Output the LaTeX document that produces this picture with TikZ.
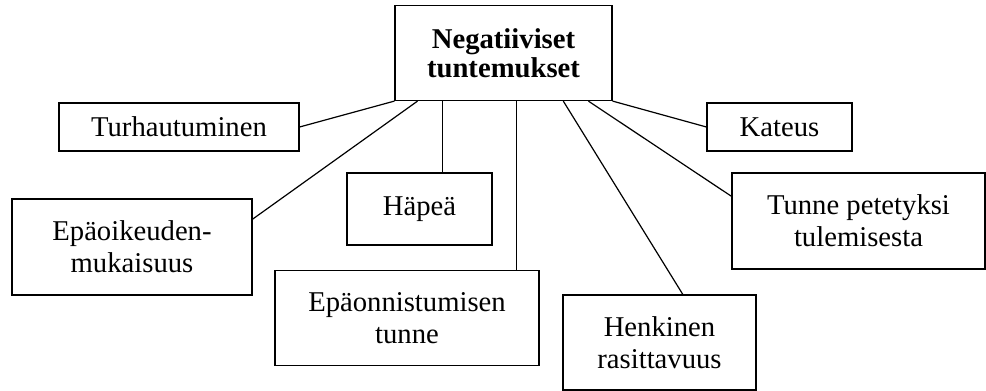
\documentclass[tikz,border=0pt]{standalone}
\usepackage{fontspec}
\setmainfont{Liberation Serif}
\usepackage{tikz}
\usetikzlibrary{calc}

\tikzset{
  feeling/.style={draw, line width=0.9pt, inner sep=0pt, align=center, font=\fontsize{21.5}{24}\selectfont},
  link/.style={line width=0.9pt}
}

\begin{document}
\begin{tikzpicture}[x=0.75pt,y=0.75pt,yscale=-1,xscale=1]

\useasboundingbox (0,0) rectangle (986,391);

\node[feeling, minimum width=162.75pt, minimum height=71.25pt, font=\fontsize{21.5}{22}\selectfont\bfseries] (neg) at (503.5,53) {Negatiiviset\\tuntemukset};

\node[feeling, minimum width=180pt, minimum height=36pt] (turh) at (179,127) {Turhautuminen};

\node[feeling, minimum width=180pt, minimum height=72pt] (epaoik) at (132,247) {Epäoikeuden-\\mukaisuus};

\node[feeling, minimum width=108.75pt, minimum height=54pt] (hapea) at (419.5,209) {Häpeä};

\node[feeling, minimum width=198pt, minimum height=71.25pt] (epaonn) at (407,318) {Epäonnistumisen\\tunne};

\node[feeling, minimum width=144.75pt, minimum height=71.25pt] (henk) at (659.5,342.5) {Henkinen\\rasittavuus};

\node[feeling, minimum width=108.75pt, minimum height=36pt] (kateus) at (779.5,127) {Kateus};

\node[feeling, minimum width=189.75pt, minimum height=72pt] (tunne) at (858.5,221) {Tunne petetyksi\\tulemisesta};

\coordinate (n1) at ($(neg.south west)!0.106!(neg.south east)$);
\coordinate (n2) at ($(neg.south west)!0.221!(neg.south east)$);
\coordinate (n3) at ($(neg.south west)!0.558!(neg.south east)$);
\coordinate (n4) at ($(neg.south west)!0.774!(neg.south east)$);
\coordinate (n5) at ($(neg.south west)!0.889!(neg.south east)$);

\draw[link] (turh.east) -- (neg.south west);

\draw[link] (epaoik.13) -- (n1);

\draw[link] (n2) -- (n2 |- hapea.north);

\draw[link] (n3) -- (n3 |- epaonn.north);

\draw[link] (n4) -- ($(henk.north west)!0.62!(henk.north east)$);

\draw[link] (n5) -- (tunne.169);

\draw[link] (neg.south east) -- (kateus.west);

\end{tikzpicture}
\end{document}
